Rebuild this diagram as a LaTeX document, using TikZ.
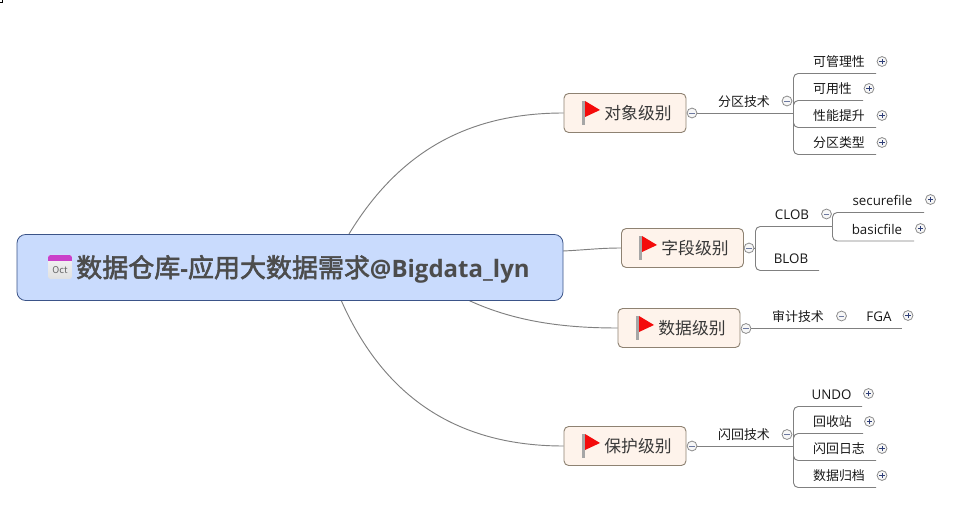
\documentclass[tikz,border=0pt]{standalone}
\usepackage{fontspec}
\setmainfont{Noto Sans CJK SC}
\newfontfamily\latinfont{Open Sans}
\newfontfamily\cjkheavy[FakeBold=2.2]{Noto Sans CJK SC}
\usetikzlibrary{calc}
\definecolor{linkc}{HTML}{808080}
\definecolor{rootfill}{HTML}{C9DBFD}
\definecolor{rootline}{HTML}{3B5488}
\definecolor{topicfill}{HTML}{FEF3EB}
\definecolor{topicline}{HTML}{8E8272}
\definecolor{signc}{HTML}{2F3F78}
\definecolor{flagred}{HTML}{F40B0B}
\tikzset{
 x=0.75pt,y=-0.75pt,
 link/.style={draw=linkc,line width=0.7pt},
 bracket/.style={link,rounded corners=3.5pt},
 rootnode/.style={draw=rootline,fill=rootfill,line width=0.6pt,rounded corners=6.5pt,minimum width=409.5pt,minimum height=49.5pt,inner sep=0},
 topic/.style={draw=topicline,fill=topicfill,line width=0.7pt,rounded corners=3.5pt,minimum width=91.5pt,minimum height=29.25pt,inner sep=0},
 topictext/.style={font=\fontsize{12.6pt}{14pt}\selectfont,text=black!78,inner sep=0},
 item/.style={font=\fontsize{9.7pt}{11pt}\selectfont,text=black!90,inner sep=0},
 latinitem/.style={font=\latinfont\fontsize{10pt}{11pt}\selectfont,text=black!90,inner sep=0},
 roottext/.style={font=\cjkheavy\fontsize{19.5pt}{22pt}\selectfont,text=black!70,inner sep=0},
 marker/.style={circle,draw=black!45,fill=black!3,line width=0.6pt,inner sep=0,minimum size=7.4pt},
 minusc/.style={marker,path picture={\draw[signc!70,line width=0.5pt] ($(path picture bounding box.center)+(-2pt,0pt)$)--($(path picture bounding box.center)+(2pt,0pt)$);}},
 plusc/.style={marker,path picture={\draw[signc,line width=0.55pt] ($(path picture bounding box.center)+(-2pt,0pt)$)--($(path picture bounding box.center)+(2pt,0pt)$) ($(path picture bounding box.center)+(0pt,-2pt)$)--($(path picture bounding box.center)+(0pt,2pt)$);}},
}
\newcommand{\flagat}[2]{%
 \fill[black!35] (#1,#2) rectangle ++(3,24);
 \fill[flagred] (#1+3,#2) -- (#1+18,#2+9) -- (#1+3,#2+16) -- cycle;
}
\newcommand{\latinbold}{\latinfont\bfseries\fontsize{18pt}{20pt}\selectfont}
\begin{document}
\begin{tikzpicture}
\useasboundingbox (0,0) rectangle (978,520);
\fill[white] (0,0) rectangle (978,520);
\draw[black,line width=0.7pt] (2.5,0) -- (2.5,2.5) -- (0,2.5);

% coordinates on the root border
\coordinate (r1) at (349,234);
\coordinate (r2) at (563,251);
\coordinate (r3) at (468,300);
\coordinate (r4) at (341,300);

% main nodes
\node[topic] (obj) at (625,113) {};
\node[topic] (fld) at (682.5,248) {};
\node[topic] (dat) at (679,328) {};
\node[topic] (pro) at (625,446) {};

% curves root -> topics
\draw[link] (r1) .. controls (400,150) and (470,113) .. (obj.west);
\draw[link] (r2) .. controls (585,250) and (600,248) .. (fld.west);
\draw[link] (r3) .. controls (515,322) and (565,328) .. (dat.west);
\draw[link] (r4) .. controls (385,400) and (460,446) .. (pro.west);

\node[rootnode] (root) at (290,267.5) {};

% calendar icon
\begin{scope}
 \clip[rounded corners=2pt] (48,255) rectangle (72,279);
 \shade[top color=white!96!black,bottom color=black!12] (48,255) rectangle (72,279);
 \fill[violet!55!magenta!75!white] (48,255) rectangle (72,261);
\end{scope}
\node[font=\fontsize{7pt}{8pt}\selectfont,text=black!60,inner sep=0] (oct) at (60,270) {Oct};
\node[roottext,anchor=west] (roott) at (76,269) {数据仓库{\latinbold -}应用大数据需求{\latinbold @Bigdata\_lyn}};

% topic labels and flags
\flagat{582}{101}
\node[topictext] (objt) at (638,113.5) {对象级别};
\flagat{639}{236}
\node[topictext] (fldt) at (695,248.5) {字段级别};
\flagat{636}{316}
\node[topictext] (datt) at (692,328.5) {数据级别};
\flagat{582}{434}
\node[topictext] (prot) at (638,446.5) {保护级别};

% ---- object branch
\node[minusc] (m1) at (692,113) {};
\coordinate (f1) at (793.5,113);
\draw[link] (m1.east) -- (f1);
\node[item] (t1) at (744,101.5) {分区技术};
\node[minusc] (m1b) at (787,101) {};
\coordinate (e11) at (876,73.5);
\coordinate (e12) at (863,100.5);
\coordinate (e13) at (876,127.5);
\coordinate (e14) at (876,154.5);
\draw[bracket] (f1) |- (e11);
\draw[bracket] (f1) |- (e12);
\draw[bracket] (f1) |- (e13);
\draw[bracket] (f1) |- (e14);
\node[item] (i11) at (839,61.5) {可管理性};
\node[item] (i12) at (832.5,88.5) {可用性};
\node[item] (i13) at (839,115.5) {性能提升};
\node[item] (i14) at (839,142.5) {分区类型};
\node[plusc] (p11) at (882,61.5) {};
\node[plusc] (p12) at (869,88.5) {};
\node[plusc] (p13) at (882,115.5) {};
\node[plusc] (p14) at (882,142.5) {};

% ---- field branch
\node[minusc] (m2) at (749,248) {};
\coordinate (f2) at (755.5,248);
\draw[link] (m2.east) -- (f2);
\coordinate (e21) at (832.5,226.5);
\coordinate (e22) at (819,270.5);
\draw[bracket] (f2) |- (e21);
\draw[bracket] (f2) |- (e22);
\node[latinitem] (i21) at (792,214.5) {CLOB};
\node[latinitem] (i22) at (791,259) {BLOB};
\node[minusc] (m21) at (826.5,214) {};
\coordinate (e211) at (924,212.5);
\coordinate (e212) at (914,241);
\draw[bracket] (e21) |- (e211);
\draw[bracket] (e21) |- (e212);
\node[latinitem] (i211) at (882.5,200.5) {securefile};
\node[latinitem] (i212) at (877,229.5) {basicfile};
\node[plusc] (p211) at (930.5,199.5) {};
\node[plusc] (p212) at (920.5,228.5) {};

% ---- data branch
\node[minusc] (m3) at (746,328.5) {};
\coordinate (e31) at (902,328.5);
\draw[link] (m3.east) -- (e31);
\node[item] (i31) at (798,316.5) {审计技术};
\node[minusc] (m31) at (841.5,316) {};
\node[latinitem] (i32) at (879,316.5) {FGA};
\node[plusc] (p32) at (908,315.5) {};

% ---- protection branch
\node[minusc] (m4) at (692,446) {};
\coordinate (f4) at (793.5,446);
\draw[link] (m4.east) -- (f4);
\node[item] (t4) at (744,434.5) {闪回技术};
\node[minusc] (m4b) at (787,434.5) {};
\coordinate (e41) at (862,406.5);
\coordinate (e42) at (863,433.5);
\coordinate (e43) at (876,460.5);
\coordinate (e44) at (876,487.5);
\draw[bracket] (f4) |- (e41);
\draw[bracket] (f4) |- (e42);
\draw[bracket] (f4) |- (e43);
\draw[bracket] (f4) |- (e44);
\node[latinitem] (i41) at (831.5,394.5) {UNDO};
\node[item] (i42) at (832.5,421.5) {回收站};
\node[item] (i43) at (839,448.5) {闪回日志};
\node[item] (i44) at (839,475.5) {数据归档};
\node[plusc] (p41) at (868.5,393.5) {};
\node[plusc] (p42) at (869.5,421.5) {};
\node[plusc] (p43) at (882,448.5) {};
\node[plusc] (p44) at (882,475.5) {};
\end{tikzpicture}
\end{document}
